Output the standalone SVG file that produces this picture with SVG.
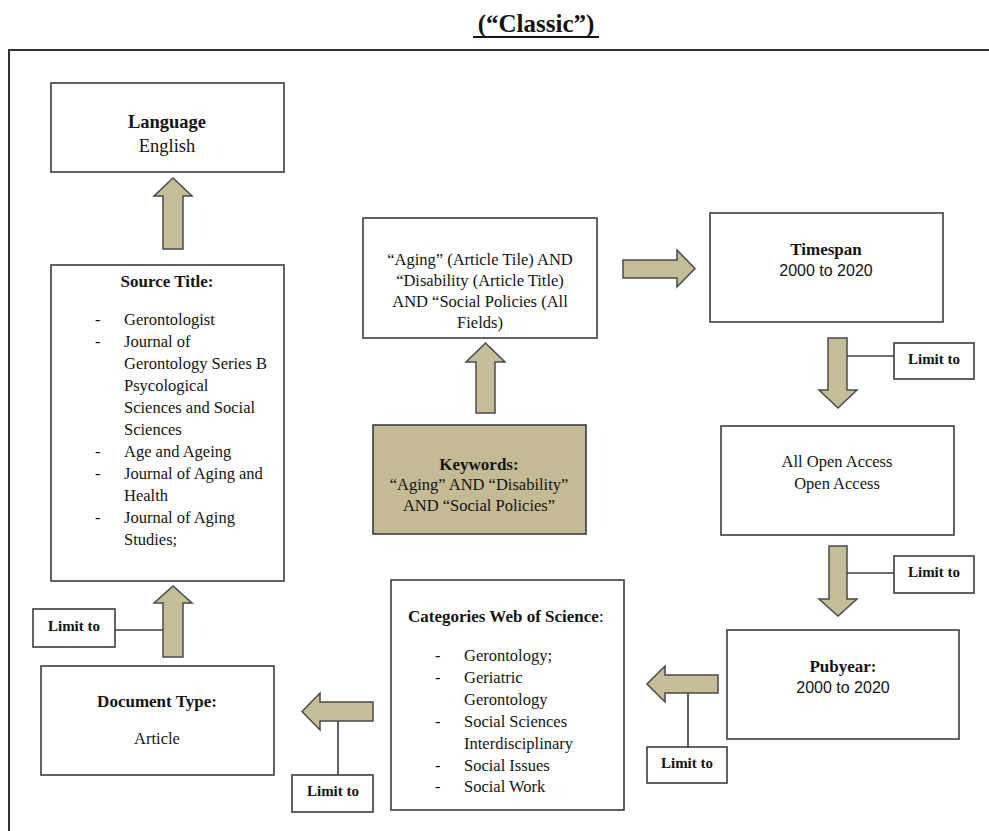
<svg xmlns="http://www.w3.org/2000/svg" width="989" height="831" viewBox="0 0 989 831">
<defs>
<style>
.box{fill:#fff;stroke:#3c3c3c;stroke-width:1.6}
.kw{fill:#c4bb95;stroke:#3c3c3c;stroke-width:1.6}
.arr{fill:#c4bd97;stroke:#4a4a4a;stroke-width:1.5;stroke-linejoin:miter}
.ln{stroke:#3c3c3c;stroke-width:1.6;fill:none}
text{font-family:"Liberation Serif","Times New Roman",serif;fill:#141414}
.t{font-size:16.5px}
.c{text-anchor:middle}
.h{font-size:17px;font-weight:bold}
.lim{font-size:15px;font-weight:bold;text-anchor:middle}
.s{font-family:"Liberation Sans",Arial,sans-serif;font-size:16px}
</style>
</defs>
<rect width="989" height="831" fill="#fff"/>
<g id="title">
<text x="536" y="32" text-anchor="middle" style="font-size:25px;font-weight:bold">(“Classic”)</text>
<rect x="473" y="36" width="126" height="2" fill="#141414"/>
</g>
<g id="frame">
<path d="M9,831 L9,50 L989,50" fill="none" stroke="#333" stroke-width="2"/>
</g>
<g id="connectors">
<path class="arr" d="M163,249 L163,196 L154,196 L173,178 L192,196 L183,196 L183,249 Z"/>
<path class="arr" d="M476,413 L476,362 L466,362 L485.5,343 L505,362 L495,362 L495,413 Z"/>
<path class="arr" d="M623,260 L677,260 L677,250 L695,268.5 L677,287 L677,278 L623,278 Z"/>
<path class="arr" d="M828,338 L847,338 L847,390 L857,390 L838,408 L819,390 L828,390 Z"/>
<path class="arr" d="M829,546 L847,546 L847,599 L857,599 L838,616 L819,599 L829,599 Z"/>
<path class="arr" d="M718,675 L665,675 L665,666 L647,684 L665,702 L665,693 L718,693 Z"/>
<path class="arr" d="M373,702 L320,702 L320,693 L302,711.5 L320,730 L320,721 L373,721 Z"/>
<path class="arr" d="M163,657 L163,603 L154,603 L173,586 L192,603 L183,603 L183,657 Z"/>
<line class="ln" x1="847" y1="356" x2="894" y2="356"/>
<line class="ln" x1="847" y1="573" x2="894" y2="573"/>
<line class="ln" x1="688" y1="693" x2="688" y2="747"/>
<line class="ln" x1="338" y1="721" x2="338" y2="775"/>
<line class="ln" x1="115" y1="630" x2="163" y2="630"/>
</g>
<g id="language">
<rect class="box" x="51" y="83" width="233" height="89"/>
<text x="167" y="128" class="c" style="font-size:18.5px;font-weight:bold">Language</text>
<text x="167" y="152" class="c" style="font-size:18.5px">English</text>
</g>
<g id="source-title">
<rect class="box" x="51" y="265" width="233" height="316"/>
<text x="167" y="287" class="c h">Source Title:</text>
<g class="t">
<text x="95" y="325">-</text><text x="124" y="325">Gerontologist</text>
<text x="95" y="347">-</text><text x="124" y="347">Journal of</text>
<text x="124" y="369">Gerontology Series B</text>
<text x="124" y="391">Psycological</text>
<text x="124" y="413">Sciences and Social</text>
<text x="124" y="435">Sciences</text>
<text x="95" y="457">-</text><text x="124" y="457">Age and Ageing</text>
<text x="95" y="479">-</text><text x="124" y="479">Journal of Aging and</text>
<text x="124" y="501">Health</text>
<text x="95" y="523">-</text><text x="124" y="523">Journal of Aging</text>
<text x="124" y="545">Studies;</text>
</g>
</g>
<g id="query">
<rect class="box" x="363" y="218" width="234" height="120"/>
<g class="t c">
<text x="480" y="265">“Aging” (Article Tile) AND</text>
<text x="480" y="286">“Disability (Article Title)</text>
<text x="480" y="307">AND “Social Policies (All</text>
<text x="480" y="328">Fields)</text>
</g>
</g>
<g id="keywords">
<rect class="kw" x="373" y="425" width="213" height="109"/>
<text x="479" y="470" class="c h">Keywords:</text>
<text x="479" y="490" class="c t">“Aging” AND “Disability”</text>
<text x="479" y="511" class="c t">AND “Social Policies”</text>
</g>
<g id="timespan">
<rect class="box" x="710" y="213" width="233" height="109"/>
<text x="826" y="255" class="c h">Timespan</text>
<text x="826" y="276" class="c s">2000 to 2020</text>
</g>
<g id="open-access">
<rect class="box" x="721" y="426" width="233" height="109"/>
<text x="837" y="467" class="c t">All Open Access</text>
<text x="837" y="489" class="c t">Open Access</text>
</g>
<g id="pubyear">
<rect class="box" x="727" y="630" width="232" height="109"/>
<text x="843" y="672" class="c h">Pubyear:</text>
<text x="843" y="693" class="c s">2000 to 2020</text>
</g>
<g id="categories">
<rect class="box" x="391" y="580" width="233" height="230"/>
<text x="408" y="622" class="h">Categories Web of Science<tspan style="font-weight:normal">:</tspan></text>
<g class="t">
<text x="435" y="661">-</text><text x="464" y="661">Gerontology;</text>
<text x="435" y="683">-</text><text x="464" y="683">Geriatric</text>
<text x="464" y="705">Gerontology</text>
<text x="435" y="727">-</text><text x="464" y="727">Social Sciences</text>
<text x="464" y="749">Interdisciplinary</text>
<text x="435" y="771">-</text><text x="464" y="771">Social Issues</text>
<text x="435" y="792">-</text><text x="464" y="792">Social Work</text>
</g>
</g>
<g id="document-type">
<rect class="box" x="41" y="666" width="233" height="109"/>
<text x="157" y="707" class="c h">Document Type:</text>
<text x="157" y="744" class="c t">Article</text>
</g>
<g id="limit-1">
<rect class="box" x="894" y="343" width="80" height="36"/>
<text x="934" y="364" class="lim">Limit to</text>
</g>
<g id="limit-2">
<rect class="box" x="894" y="556" width="80" height="37"/>
<text x="934" y="577" class="lim">Limit to</text>
</g>
<g id="limit-3">
<rect class="box" x="647" y="747" width="80" height="36"/>
<text x="687" y="768" class="lim">Limit to</text>
</g>
<g id="limit-4">
<rect class="box" x="292" y="775" width="81" height="37"/>
<text x="333" y="796" class="lim">Limit to</text>
</g>
<g id="limit-5">
<rect class="box" x="33" y="609" width="82" height="38"/>
<text x="74" y="631" class="lim">Limit to</text>
</g>
</svg>
